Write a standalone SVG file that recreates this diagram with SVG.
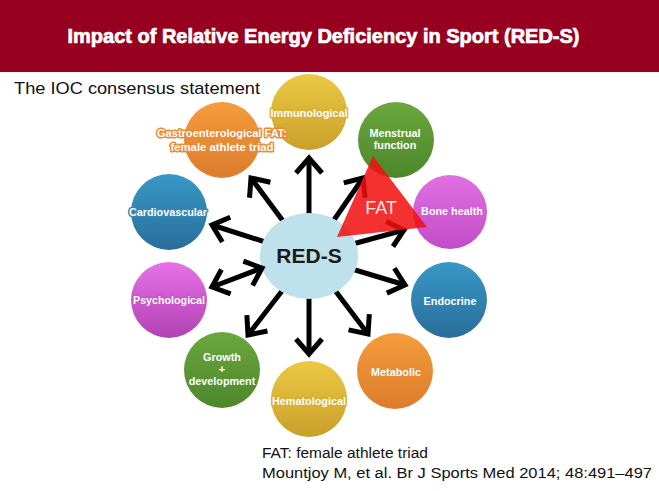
<svg xmlns="http://www.w3.org/2000/svg" width="659" height="491" viewBox="0 0 659 491">
<style>
.lbl{font-family:"Liberation Sans",Arial,sans-serif;font-weight:bold;font-size:10.8px;fill:#fff;text-anchor:middle;paint-order:stroke;stroke-width:3;stroke-linejoin:round}
.arr{stroke:#000;stroke-width:5;fill:none;marker-end:url(#ah)}
.plain{font-family:"Liberation Sans",Arial,sans-serif;fill:#111}
</style>
<defs>
<marker id="ah" markerUnits="userSpaceOnUse" viewBox="-20 -16 24 32" refX="0" refY="0" markerWidth="24" markerHeight="32" orient="auto-start-reverse" overflow="visible">
<path d="M-15,-13 L0,0 L-15,13" fill="none" stroke="#000" stroke-width="5" stroke-linejoin="miter"/>
</marker>
<linearGradient id="gY" x1="0" y1="0" x2="0" y2="1"><stop offset="0" stop-color="#ECC843"/><stop offset="1" stop-color="#C9A02A"/></linearGradient>
<linearGradient id="gG" x1="0" y1="0" x2="0" y2="1"><stop offset="0" stop-color="#6BA73D"/><stop offset="1" stop-color="#4C872B"/></linearGradient>
<linearGradient id="gO" x1="0" y1="0" x2="0" y2="1"><stop offset="0" stop-color="#F49C3C"/><stop offset="1" stop-color="#DD7C2C"/></linearGradient>
<linearGradient id="gB" x1="0" y1="0" x2="0" y2="1"><stop offset="0" stop-color="#3898C6"/><stop offset="1" stop-color="#2A6E9A"/></linearGradient>
<linearGradient id="gM" x1="0" y1="0" x2="0" y2="1"><stop offset="0" stop-color="#E672E6"/><stop offset="1" stop-color="#B242B4"/></linearGradient>
<linearGradient id="gM2" x1="0" y1="0" x2="0" y2="1"><stop offset="0" stop-color="#E070E2"/><stop offset="1" stop-color="#C24CC8"/></linearGradient>
</defs>
<rect x="0" y="0" width="659" height="72" fill="#98001F"/>
<text x="323.5" y="43" font-family="'Liberation Sans',Arial,sans-serif" font-weight="bold" font-size="20" fill="#fff" stroke="#fff" stroke-width="0.7" text-anchor="middle" textLength="512" lengthAdjust="spacingAndGlyphs">Impact of Relative Energy Deficiency in Sport (RED-S)</text>
<text class="plain" x="14" y="94" font-size="17" textLength="246" lengthAdjust="spacingAndGlyphs">The IOC consensus statement</text>

<g id="immunological"><circle cx="309" cy="112" r="38" fill="url(#gY)"/><text class="lbl" x="309" y="117" stroke="#D8B032" textLength="77" lengthAdjust="spacingAndGlyphs">Immunological</text></g>
<g id="gastro"><circle cx="222" cy="140" r="38" fill="url(#gO)"/><text class="lbl" x="222" y="137" stroke="#E98A34" textLength="130" lengthAdjust="spacingAndGlyphs">Gastroenterological FAT:</text><text class="lbl" x="222" y="151" stroke="#E98A34" textLength="103" lengthAdjust="spacingAndGlyphs">female athlete triad</text></g>
<g id="menstrual"><circle cx="396" cy="140" r="38" fill="url(#gG)"/><text class="lbl" x="395" y="137">Menstrual</text><text class="lbl" x="395" y="149">function</text></g>
<g id="cardiovascular"><circle cx="169" cy="212" r="38" fill="url(#gB)"/><text class="lbl" x="168" y="216" stroke="#3186B6" textLength="78" lengthAdjust="spacingAndGlyphs">Cardiovascular</text></g>
<g id="bone"><circle cx="450" cy="212" r="37" fill="url(#gM2)"/><text class="lbl" x="452" y="215">Bone health</text></g>
<g id="psychological"><circle cx="169" cy="300" r="38" fill="url(#gM)"/><text class="lbl" x="169" y="304" stroke="#C955C9" textLength="72" lengthAdjust="spacingAndGlyphs">Psychological</text></g>
<g id="endocrine"><circle cx="449" cy="300" r="38" fill="url(#gB)"/><text class="lbl" x="450" y="305">Endocrine</text></g>
<g id="growth"><circle cx="222" cy="370" r="38" fill="url(#gG)"/><text class="lbl" x="222" y="361">Growth</text><text class="lbl" x="222" y="373">+</text><text class="lbl" x="222" y="385">development</text></g>
<g id="metabolic"><circle cx="395" cy="371" r="38" fill="url(#gO)"/><text class="lbl" x="396" y="376">Metabolic</text></g>
<g id="hematological"><circle cx="309" cy="399" r="38" fill="url(#gY)"/><text class="lbl" x="309" y="405" stroke="#D8B032" textLength="74" lengthAdjust="spacingAndGlyphs">Hematological</text></g>

<g id="connectors">
<line class="arr" x1="309" y1="256" x2="309" y2="158"/>
<line class="arr" x1="309" y1="256" x2="251" y2="178"/>
<line class="arr" x1="309" y1="256" x2="363" y2="178"/>
<line class="arr" x1="309" y1="256" x2="212" y2="225"/>
<line class="arr" x1="309" y1="256" x2="404" y2="230"/>
<line class="arr" x1="309" y1="256" x2="405" y2="285"/>
<line class="arr" x1="309" y1="256" x2="248" y2="335"/>
<line class="arr" x1="309" y1="256" x2="309" y2="354"/>
<line class="arr" x1="309" y1="256" x2="368" y2="334"/>
</g>

<g id="reds"><ellipse cx="309" cy="256" rx="49" ry="43" fill="#BEE1EB"/><text x="309" y="263" font-family="'Liberation Sans',Arial,sans-serif" font-weight="bold" font-size="21" fill="#1a1a1a" text-anchor="middle">RED-S</text></g>
<g id="connector-double"><line x1="212" y1="287" x2="262" y2="268" stroke="#000" stroke-width="5" marker-start="url(#ah)" marker-end="url(#ah)"/></g>

<g id="fat"><polygon points="373,156 337,237 427,227" fill="#F20F0F" fill-opacity="0.86"/><text x="381" y="214" font-family="'Liberation Sans',Arial,sans-serif" font-size="18" fill="#fff" fill-opacity="0.9" text-anchor="middle">FAT</text></g>

<text class="plain" x="262" y="458" font-size="15.5">FAT: female athlete triad</text>
<text class="plain" x="262" y="478" font-size="15.5" textLength="390" lengthAdjust="spacingAndGlyphs">Mountjoy M, et al. Br J Sports Med 2014; 48:491–497</text>
</svg>
